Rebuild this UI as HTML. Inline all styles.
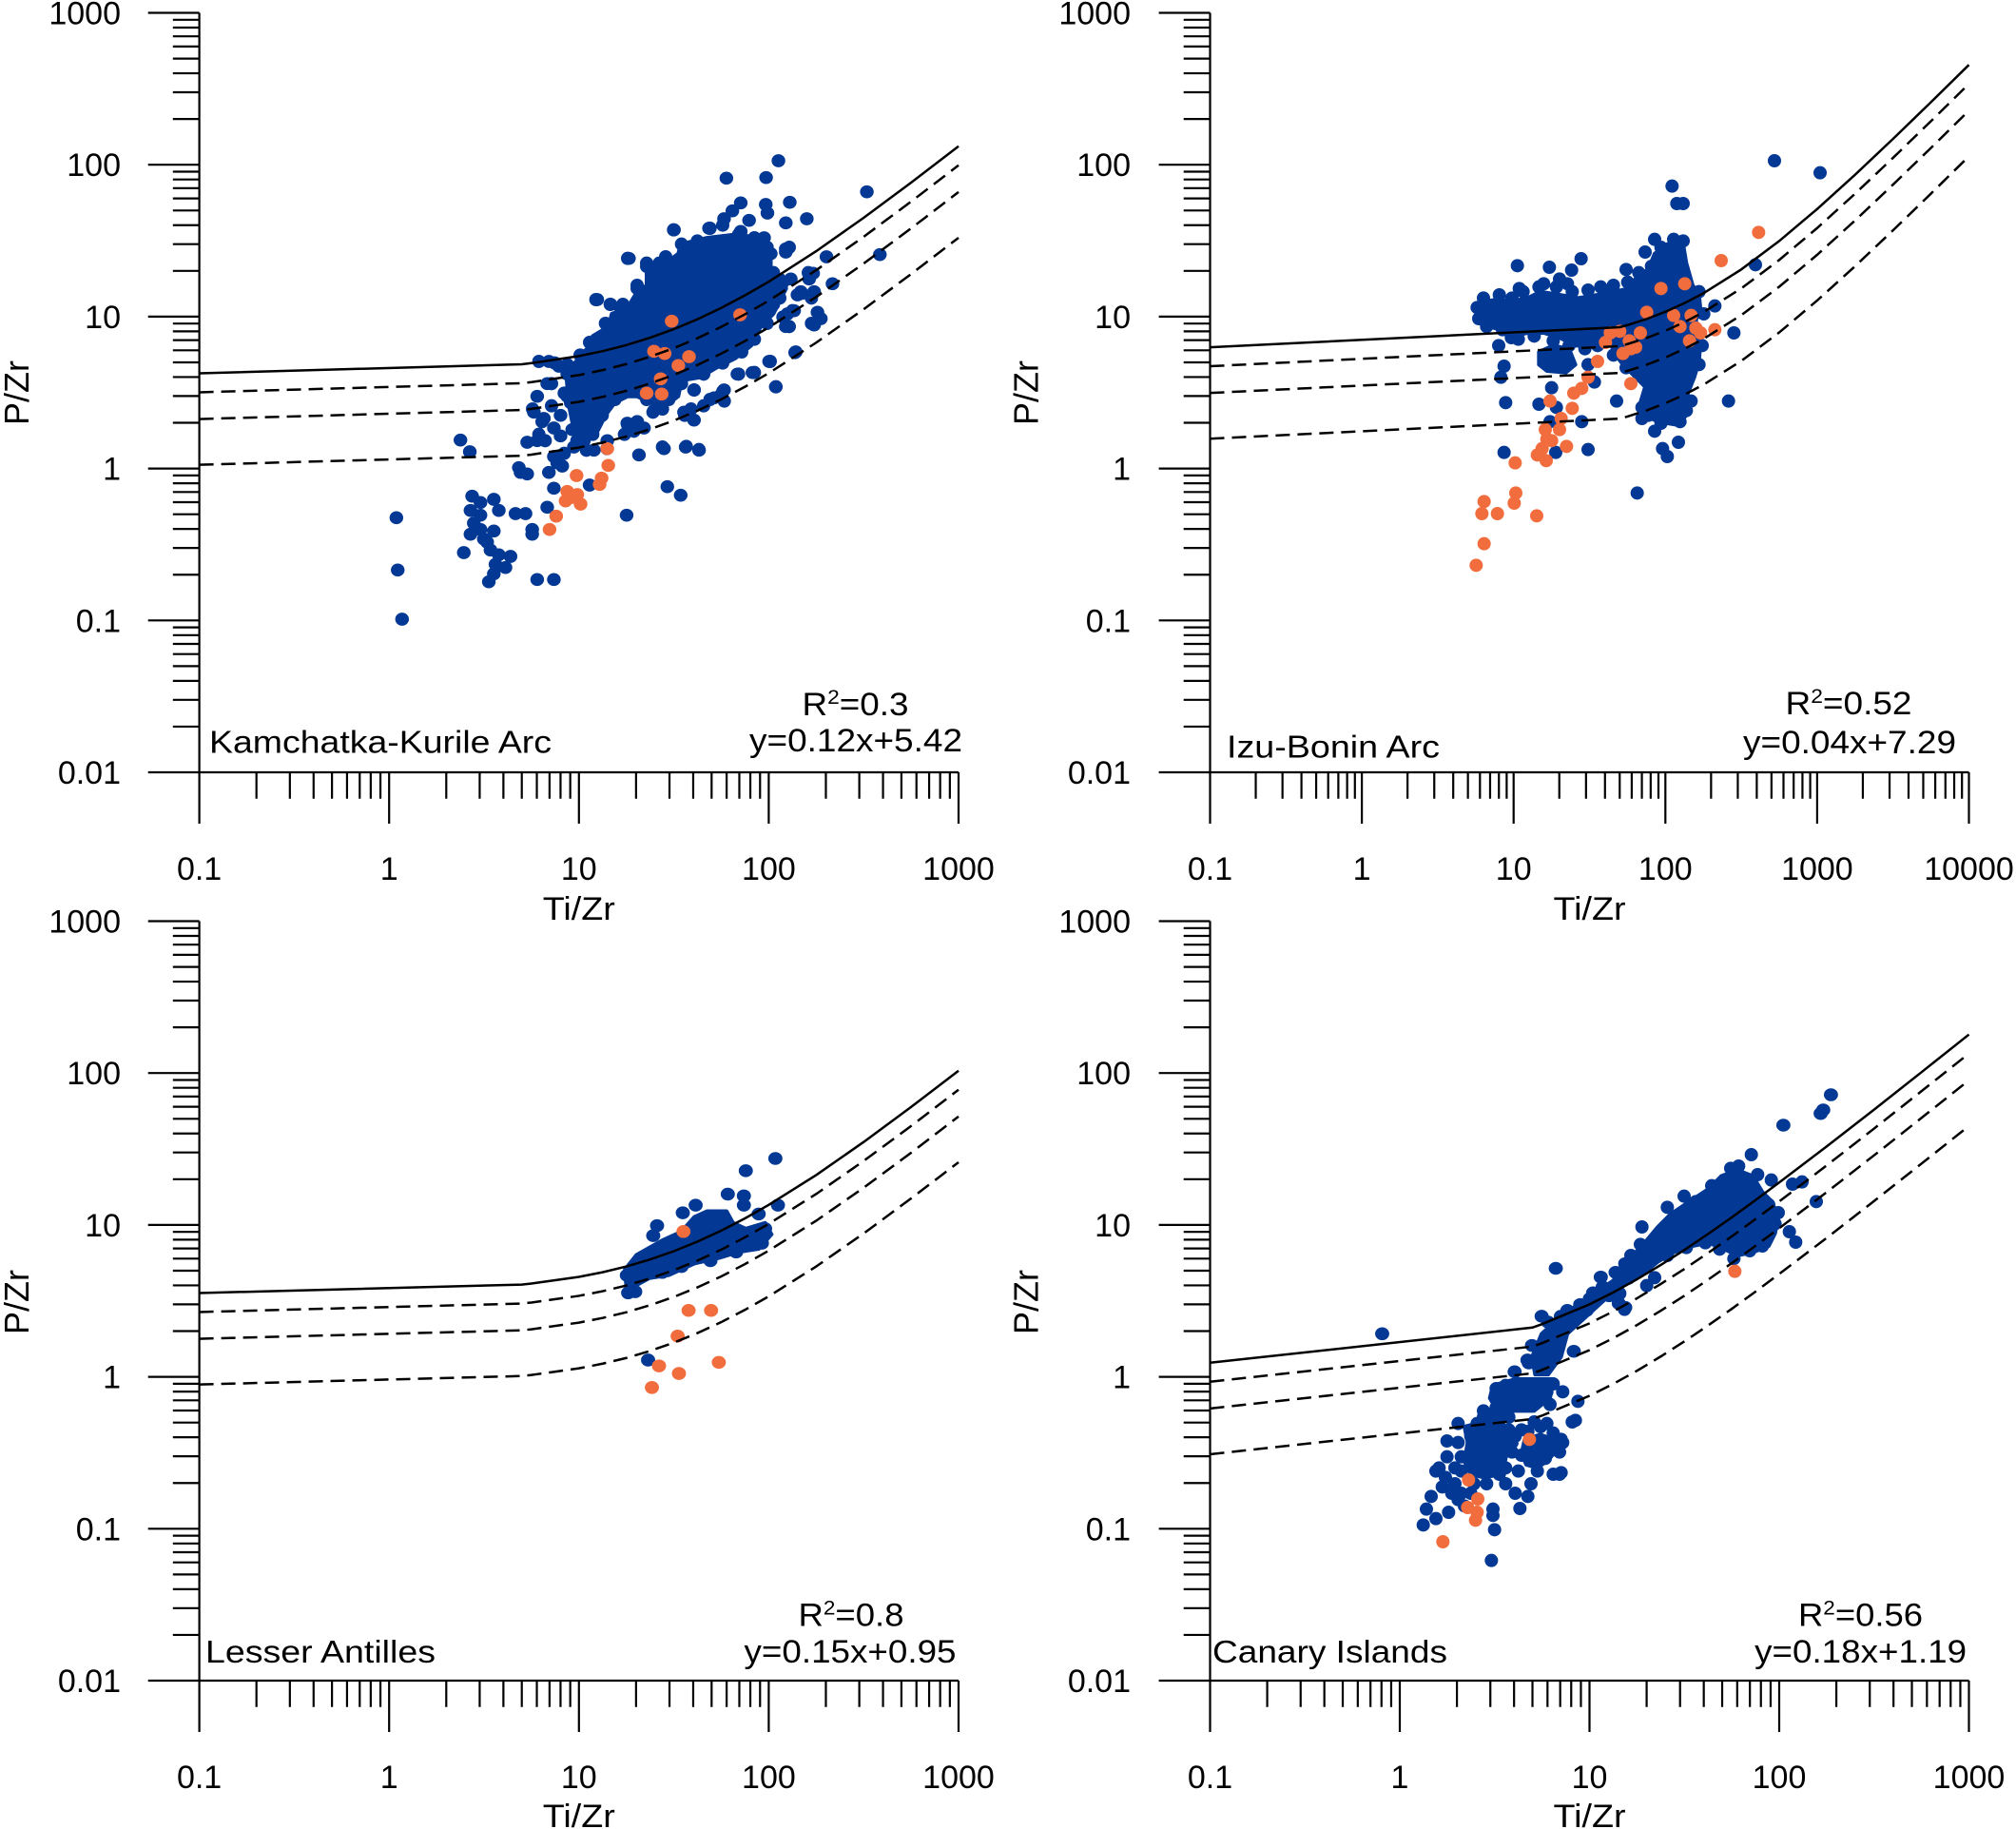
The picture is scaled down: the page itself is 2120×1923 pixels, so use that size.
<!DOCTYPE html>
<html><head><meta charset="utf-8"><style>
html,body{margin:0;padding:0;background:#fff;}
svg{display:block;}
text{font-family:"Liberation Sans",Arial,sans-serif;fill:#000;}
</style></head><body>
<svg width="2120" height="1923" viewBox="0 0 2120 1923" xmlns="http://www.w3.org/2000/svg">
<rect width="2120" height="1923" fill="#fff"/>
<defs>
<path id="ym" d="M181.8,-48.07h27.8M181.8,-76.2h27.8M181.8,-96.15h27.8M181.8,-111.6h27.8M181.8,-124.3h27.8M181.8,-135h27.8M181.8,-144.2h27.8M181.8,-152.4h27.8"/>
<path id="x4" d="M60.08,0v27.7M95.23,0v27.7M120.17,0v27.7M139.52,0v27.7M155.33,0v27.7M168.68,0v27.7M180.25,0v27.7M190.46,0v27.7"/>
<path id="x5" d="M48.04,0v27.7M76.15,0v27.7M96.09,0v27.7M111.56,0v27.7M124.2,0v27.7M134.88,0v27.7M144.13,0v27.7M152.29,0v27.7"/>
</defs>

<!-- ===== DATA ===== -->
<!-- TL dense blob (orig coords) -->
<polygon fill="#033894" stroke="#033894" stroke-width="4" stroke-linejoin="round" points="600,386.7 620,363.3 623.3,353.3 640,343.3 643.3,330 660,323.3 670,306.7 680,300 680,280 700,276.7 713.3,266.7 715.8,256.7 743.9,250 771.9,246.7 803.5,250 810.5,266.7 810.5,290 823.3,290 826.7,303.3 820,316.7 813.3,330 800,343.3 790,363.3 773.3,376.7 753.3,386.7 736.7,396.7 716.7,400 713.3,416.7 700,426.7 683.3,423.3 670,416.7 660,416.7 646.7,423.3 636.7,436.7 626.7,456.7 613.3,463.3 603,450 598,425 596,400"/>
<g transform="translate(560,230) scale(0.33333)">
<path fill="none" stroke="#033894" stroke-width="42" stroke-linecap="round" d="M510 540h0M540 590h0M560 570h0M600 545h0M605 575h0M500 600h0M480 620h0M410 600h0M380 610h0M700 485h0M750 450h0M768 530h0M828 422h0M650 490h0M590 560h0M330 640h0M300 650h0M290 680h0M320 670h0M410 720h0M485 718h0M525 728h0M235 725h0M170 730h0M140 700h0M100 740h0M40 700h0M20 680h0M30 640h0M60 590h0M100 550h0M120 580h0M60 520h0M0 600h0M200 255h0M245 270h0M285 270h0M300 125h0M445 35h0M360 150h0M400 140h0M810 90h0M800 100h0M850 235h0M880 250h0M870 170h0M880 330h0M810 340h0M820 290h0M740 230h0M760 270h0M790 310h0M650 50h0M560 30h0M600 20h0M180 390h0M150 430h0M110 460h0M70 455h0M20 450h0M230 330h0M330 210h0M360 140h0M420 120h0M470 80h0M520 70h0M580 80h0M700 60h0M740 90h0M760 170h0M790 200h0M780 250h0M740 330h0M700 380h0M660 420h0M600 455h0M540 490h0M470 520h0M430 570h0M360 570h0M260 570h0M220 620h0M190 680h0"/>
</g>
<!-- TL dots -->
<g transform="translate(400,150) scale(0.35088,0.33333)">
<path fill="none" stroke="#033894" stroke-width="41" stroke-linecap="round" d="M1193 57h0M1037 112h0M1156 110h0M1458 155h0M1080 190h0M1155 195h0M1160 222h0M1227 188h0M1278 240h0M1215 253h0M1055 215h0M1030 240h0M985 270h0M1080 280h0M1105 245h0M880 275h0M745 365h0M800 385h0M840 380h0M910 330h0M1215 335h0M1215 345h0M1337 360h0M1497 353h0M1297 412h0M1355 445h0M1285 430h0M1300 470h0M1260 470h0M1240 530h0M1310 535h0M1320 555h0M1300 575h0M1215 580h0M1245 660h0M1165 690h0M1115 725h0M1185 770h0M1070 730h0M1030 780h0M1000 805h0M940 780h0M940 875h0M910 850h0M650 495h0M690 510h0M720 520h0M770 460h0M600 670h0M505 690h0M535 705h0M560 730h0M500 760h0M470 800h0M460 850h0M490 870h0M520 900h0M540 925h0M580 960h0M610 940h0M470 940h0M440 945h0M480 935h0M520 990h0M530 1010h0M545 1020h0M505 1040h0M415 1025h0M440 1045h0M640 970h0M680 940h0M760 900h0M790 900h0M740 885h0M770 880h0M820 845h0M850 965h0M915 960h0M955 970h0M775 985h0M860 1085h0M900 1112h0M738 1175h0M627 1080h0M520 1090h0M500 1150h0M455 1220h0M455 1235h0M405 1170h0M435 1170h0M240 938h0M268 975h0M48 1183h0M52 1348h0M65 1503h0M250 1293h0M275 1115h0M270 1160h0M300 1135h0M340 1125h0M355 1160h0M280 1200h0M300 1220h0M270 1235h0M340 1225h0M320 1260h0M330 1285h0M355 1300h0M390 1305h0M345 1330h0M375 1340h0M340 1360h0M325 1385h0M470 1378h0M520 1378h0M300 1175h0M310 1250h0M420 1040h0M1230 430h0M1250 480h0M1220 540h0M1175 420h0M1170 350h0M1150 300h0M560 800h0M600 760h0M540 860h0M575 905h0"/>
<path fill="none" stroke="#f26d3d" stroke-width="41" stroke-linecap="round" d="M873 563h0M1078 543h0M820 658h0M852 665h0M925 675h0M893 703h0M840 745h0M798 790h0M843 793h0M680 965h0M683 1018h0M663 1058h0M657 1078h0M588 1050h0M560 1100h0M590 1110h0M555 1130h0M600 1140h0M570 1120h0M527 1178h0M507 1220h0"/>
</g>

<!-- TR -->
<g transform="translate(1540,150) scale(0.33333)">
<polygon fill="#033894" stroke="#033894" stroke-width="12" stroke-linejoin="round" points="45,505 100,495 150,500 200,490 240,470 300,480 360,490 420,480 470,470 520,460 545,420 580,400 600,350 640,320 690,320 700,380 720,450 740,480 745,530 730,560 745,620 740,690 725,740 705,790 700,860 670,890 610,880 570,860 555,820 570,770 540,740 500,700 470,660 460,620 400,640 350,640 300,615 250,600 200,600 150,610 110,590 50,570 40,540"/>
<polygon fill="#033894" stroke="#033894" stroke-width="12" stroke-linejoin="round" points="235,660 280,640 330,650 350,700 320,725 260,720 235,700"/>
<path fill="none" stroke="#033894" stroke-width="42" stroke-linecap="round" d="M978 57h0M1122 95h0M655 137h0M670 192h0M690 192h0M600 305h0M570 345h0M167 388h0M268 393h0M338 402h0M368 366h0M510 400h0M173 460h0M235 455h0M300 430h0M325 445h0M440 470h0M515 440h0M605 385h0M918 385h0M790 515h0M850 600h0M108 640h0M125 705h0M115 740h0M130 820h0M235 825h0M275 773h0M290 835h0M370 880h0M270 880h0M125 977h0M288 977h0M390 968h0M480 815h0M545 1105h0M600 910h0M625 965h0M640 990h0M675 945h0M715 815h0M833 815h0M560 835h0M580 860h0M620 780h0M260 700h0M390 700h0M410 755h0M150 600h0M330 500h0M200 520h0M60 560h0M80 540h0M148 615h0M380 650h0M420 620h0M350 610h0M60 490h0M110 480h0M150 490h0M185 470h0M250 445h0M290 455h0M340 470h0M390 465h0M430 455h0M470 450h0M550 410h0M590 390h0M620 330h0M660 305h0M690 310h0M70 580h0M120 590h0M170 620h0M220 610h0M280 625h0M330 640h0M420 640h0M470 670h0M510 710h0M560 870h0M620 885h0M680 880h0M700 845h0M740 700h0M750 640h0M755 540h0M740 470h0M40 520h0M45 555h0"/>
<path fill="none" stroke="#f26d3d" stroke-width="42" stroke-linecap="round" d="M928 283h0M810 372h0M620 460h0M695 445h0M575 535h0M660 545h0M715 545h0M730 585h0M790 590h0M680 580h0M745 600h0M710 625h0M460 600h0M445 630h0M490 595h0M520 625h0M555 600h0M525 650h0M500 665h0M540 645h0M420 690h0M390 740h0M525 760h0M370 775h0M345 790h0M340 838h0M270 815h0M305 870h0M300 905h0M255 905h0M260 935h0M275 940h0M245 965h0M230 985h0M258 1003h0M322 958h0M160 1010h0M162 1105h0M157 1137h0M62 1132h0M55 1170h0M104 1170h0M228 1177h0M62 1265h0M37 1333h0"/>
</g>

<!-- BL -->
<g transform="translate(0,960) scale(0.6761,0.6143)">
<polygon fill="#033894" stroke="#033894" stroke-width="6" stroke-linejoin="round" points="972,610 990,585 1030,560 1060,545 1080,520 1100,510 1130,510 1140,530 1160,540 1190,530 1200,550 1180,575 1150,580 1120,590 1100,595 1080,600 1060,610 1040,620 1010,625 985,640 975,650"/>
<path fill="none" stroke="#033894" stroke-width="22" stroke-linecap="round" d="M1206 420h0M1160 441h0M1132 481h0M1157 484h0M1157 500h0M1082 500h0M1062 513h0M1022 535h0M1016 552h0M1180 515h0M1210 500h0M1190 540h0M1185 565h0M1145 580h0M1105 595h0M1060 605h0M1030 615h0M977 650h0M988 648h0M1008 765h0M975 620h0M1000 600h0M1040 580h0M1090 560h0M1120 540h0"/>
<path fill="none" stroke="#f26d3d" stroke-width="22" stroke-linecap="round" d="M1063 545h0M1071 680h0M1106 680h0M1054 724h0M1025 775h0M1056 788h0M1118 769h0M1014 812h0"/>
</g>

<!-- BR band + outliers -->
<g transform="translate(1060,960) scale(0.6761,0.6143)">
<polygon fill="#033894" stroke="#033894" stroke-width="6" stroke-linejoin="round" points="815,760 830,720 860,690 900,660 940,630 970,600 1000,570 1010,590 980,615 950,640 920,670 890,700 870,720 860,760 840,790 820,790"/>
<path fill="none" stroke="#033894" stroke-width="22" stroke-linecap="round" d="M582 720h0M852 608h0M1206 363h0M1264 343h0M1268 337h0M1280 311h0M845 705h0M855 715h0M830 740h0M825 760h0M810 770h0M830 690h0M860 690h0M870 680h0M890 670h0M910 650h0M925 640h0M945 615h0M960 600h0M880 750h0M808 765h0M788 785h0M905 660h0M928 648h0M922 623h0M950 668h0M960 675h0M840 700h0M815 740h0M870 700h0M900 680h0M935 655h0M965 625h0M980 590h0"/>
</g>
<!-- BR upper cluster -->
<g transform="translate(1700,1200) scale(0.33333)">
<polygon fill="#033894" stroke="#033894" stroke-width="12" stroke-linejoin="round" points="130,270 170,230 230,190 290,150 330,110 380,90 430,110 460,160 490,190 510,240 500,290 480,330 430,350 380,360 340,340 290,320 240,330 180,350 130,380 80,420 30,450 0,470 0,410 40,370 80,330"/>
<path fill="none" stroke="#033894" stroke-width="42" stroke-linecap="round" d="M425 42h0M385 78h0M360 85h0M213 173h0M160 208h0M80 270h0M75 325h0M45 360h0M445 105h0M488 122h0M555 135h0M585 128h0M630 190h0M545 285h0M565 318h0M510 225h0M325 340h0M370 370h0M120 430h0M95 455h0M10 480h0M25 530h0M0 450h0M130 300h0M180 250h0M250 190h0M300 140h0M480 200h0M500 260h0M460 330h0M420 345h0M280 320h0M220 335h0M160 360h0M60 400h0"/>
<path fill="none" stroke="#f26d3d" stroke-width="42" stroke-linecap="round" d="M373 410h0"/>
</g>
<!-- BR lower cluster -->
<g transform="translate(1300,1450) scale(0.33333)">
<polygon fill="#033894" stroke="#033894" stroke-width="12" stroke-linejoin="round" points="720,150 800,130 850,150 860,200 850,250 840,300 780,310 740,300 720,260 730,200"/>
<polygon fill="#033894" stroke="#033894" stroke-width="12" stroke-linejoin="round" points="910,190 960,175 1000,190 1010,225 985,255 950,280 915,270 900,235"/>
<polygon fill="#033894" stroke="#033894" stroke-width="12" stroke-linejoin="round" points="810,20 880,0 1000,0 990,60 940,100 880,100 830,110 800,60"/>
<path fill="none" stroke="#033894" stroke-width="42" stroke-linecap="round" d="M1078 70h0M1060 135h0M1070 130h0M1020 300h0M1025 295h0M1020 230h0M1025 190h0M1000 170h0M980 140h0M940 135h0M920 165h0M960 200h0M975 250h0M950 290h0M930 330h0M920 370h0M895 408h0M880 360h0M850 330h0M890 290h0M900 240h0M870 230h0M830 300h0M800 250h0M780 200h0M760 160h0M740 180h0M700 140h0M665 195h0M665 245h0M710 245h0M640 280h0M630 290h0M660 310h0M650 340h0M615 370h0M600 410h0M590 460h0M630 440h0M670 420h0M680 360h0M710 360h0M740 360h0M720 400h0M810 410h0M810 430h0M815 475h0M805 572h0M780 100h0M820 90h0M820 30h0M850 20h0M900 40h0M940 80h0M980 40h0M1000 15h0M880 60h0M860 120h0M830 150h0M800 120h0M700 200h0M710 290h0M690 330h0M750 330h0M790 330h0M850 280h0M870 200h0M860 160h0M900 160h0M960 150h0M1030 200h0M1000 300h0M780 120h0M760 140h0M830 120h0M990 80h0M1030 40h0M880 180h0M690 280h0M700 380h0"/>
<path fill="none" stroke="#f26d3d" stroke-width="42" stroke-linecap="round" d="M925 190h0M733 318h0M762 378h0M730 405h0M760 420h0M755 445h0M652 513h0"/>
</g>

<!-- ===== CURVES ===== -->
<g fill="none" stroke="#000" stroke-width="2.5">
<path id="cTL" d="M209.6,392.5L548.7,383L558.9,381.8L608.8,374.4L633.7,369.2L658.7,362.8L683.6,355.1L708.6,346.1L733.5,335.6L758.5,323.7L783.4,310.5L808.4,296.2L858.3,264.1L908.2,229L958.1,192L1008,153.8"/>
<path id="cTR" d="M1272.5,365.1L1703.3,344L1711.4,341.8L1731.3,335.5L1751.3,327.8L1771.2,318.8L1791.2,308.4L1831.1,283.3L1871,253.4L1910.9,219.8L1950.8,183.7L1990.7,146L2030.6,107.4L2070.5,68.2"/>
<path id="cBL" d="M209.6,1359.5L548.7,1350.6L558.9,1349.5L608.8,1342.5L633.7,1337.6L658.7,1331.6L683.6,1324.2L708.6,1315.5L733.5,1305.4L758.5,1293.9L783.4,1281L808.4,1266.8L858.3,1235.4L908.2,1200.7L958.1,1163.9L1008,1125.8"/>
<path id="cBR" d="M1272.5,1432.8L1611.5,1395.8L1621.6,1392.2L1671.5,1371.4L1696.4,1358.9L1721.4,1345.1L1746.3,1330.1L1771.3,1314.2L1796.2,1297.4L1821.2,1279.9L1846.1,1261.8L1871,1243.3L1920.9,1205.4L1970.8,1166.6L2020.6,1127.3L2070.5,1087.7"/>
</g>
<g fill="none" stroke="#000" stroke-width="2.5" stroke-dasharray="15 8">
<use href="#cTL" transform="translate(0,19.95)"/><use href="#cTL" transform="translate(0,48.08)"/><use href="#cTL" transform="translate(0,96.15)"/>
<use href="#cTR" transform="translate(0,19.95)"/><use href="#cTR" transform="translate(0,48.08)"/><use href="#cTR" transform="translate(0,96.15)"/>
<use href="#cBL" transform="translate(0,19.95)"/><use href="#cBL" transform="translate(0,48.08)"/><use href="#cBL" transform="translate(0,96.15)"/>
<use href="#cBR" transform="translate(0,19.95)"/><use href="#cBR" transform="translate(0,48.08)"/><use href="#cBR" transform="translate(0,96.15)"/>
</g>

<!-- ===== AXES ===== -->
<g fill="none" stroke="#000" stroke-width="2.2">
<path d="M209.6,13.5V812M155.7,812H1008M155.7,13.5h53.9M155.7,173.2h53.9M155.7,332.9h53.9M155.7,492.6h53.9M155.7,652.3h53.9M209.6,812v54M409.2,812v54M608.8,812v54M808.4,812v54M1008,812v54"/>
<use href="#ym" transform="translate(0,812)"/><use href="#ym" transform="translate(0,652.3)"/><use href="#ym" transform="translate(0,492.6)"/><use href="#ym" transform="translate(0,332.9)"/><use href="#ym" transform="translate(0,173.2)"/>
<use href="#x4" transform="translate(209.6,812)"/><use href="#x4" transform="translate(409.2,812)"/><use href="#x4" transform="translate(608.8,812)"/><use href="#x4" transform="translate(808.4,812)"/>
<path d="M1272.5,13.5V812M1218.6,812H2070.5M1218.6,13.5h53.9M1218.6,173.2h53.9M1218.6,332.9h53.9M1218.6,492.6h53.9M1218.6,652.3h53.9M1272.5,812v54M1432.1,812v54M1591.7,812v54M1751.3,812v54M1910.9,812v54M2070.5,812v54"/>
<use href="#ym" transform="translate(1062.9,812)"/><use href="#ym" transform="translate(1062.9,652.3)"/><use href="#ym" transform="translate(1062.9,492.6)"/><use href="#ym" transform="translate(1062.9,332.9)"/><use href="#ym" transform="translate(1062.9,173.2)"/>
<use href="#x5" transform="translate(1272.5,812)"/><use href="#x5" transform="translate(1432.1,812)"/><use href="#x5" transform="translate(1591.7,812)"/><use href="#x5" transform="translate(1751.3,812)"/><use href="#x5" transform="translate(1910.9,812)"/>
<path d="M209.6,968.5V1767M155.7,1767H1008M155.7,968.5h53.9M155.7,1128.2h53.9M155.7,1287.9h53.9M155.7,1447.6h53.9M155.7,1607.3h53.9M209.6,1767v54M409.2,1767v54M608.8,1767v54M808.4,1767v54M1008,1767v54"/>
<use href="#ym" transform="translate(0,1767)"/><use href="#ym" transform="translate(0,1607.3)"/><use href="#ym" transform="translate(0,1447.6)"/><use href="#ym" transform="translate(0,1287.9)"/><use href="#ym" transform="translate(0,1128.2)"/>
<use href="#x4" transform="translate(209.6,1767)"/><use href="#x4" transform="translate(409.2,1767)"/><use href="#x4" transform="translate(608.8,1767)"/><use href="#x4" transform="translate(808.4,1767)"/>
<path d="M1272.5,968.5V1767M1218.6,1767H2070.5M1218.6,968.5h53.9M1218.6,1128.2h53.9M1218.6,1287.9h53.9M1218.6,1447.6h53.9M1218.6,1607.3h53.9M1272.5,1767v54M1472,1767v54M1671.5,1767v54M1871,1767v54M2070.5,1767v54"/>
<use href="#ym" transform="translate(1062.9,1767)"/><use href="#ym" transform="translate(1062.9,1607.3)"/><use href="#ym" transform="translate(1062.9,1447.6)"/><use href="#ym" transform="translate(1062.9,1287.9)"/><use href="#ym" transform="translate(1062.9,1128.2)"/>
<use href="#x4" transform="translate(1272.5,1767)"/><use href="#x4" transform="translate(1472,1767)"/><use href="#x4" transform="translate(1671.5,1767)"/><use href="#x4" transform="translate(1871,1767)"/>
</g>

<!-- ===== TICK LABELS ===== -->
<g font-size="34" text-anchor="end">
<text x="127" y="25.5">1000</text><text x="127" y="185.2">100</text><text x="127" y="344.9">10</text><text x="127" y="504.6">1</text><text x="127" y="664.3">0.1</text><text x="127" y="824">0.01</text>
<text x="1189" y="25.5">1000</text><text x="1189" y="185.2">100</text><text x="1189" y="344.9">10</text><text x="1189" y="504.6">1</text><text x="1189" y="664.3">0.1</text><text x="1189" y="824">0.01</text>
<text x="127" y="980.5">1000</text><text x="127" y="1140.2">100</text><text x="127" y="1299.9">10</text><text x="127" y="1459.6">1</text><text x="127" y="1619.3">0.1</text><text x="127" y="1779">0.01</text>
<text x="1189" y="980.5">1000</text><text x="1189" y="1140.2">100</text><text x="1189" y="1299.9">10</text><text x="1189" y="1459.6">1</text><text x="1189" y="1619.3">0.1</text><text x="1189" y="1779">0.01</text>
</g>
<g font-size="34" text-anchor="middle">
<text x="209.6" y="925">0.1</text><text x="409.2" y="925">1</text><text x="608.8" y="925">10</text><text x="808.4" y="925">100</text><text x="1008" y="925">1000</text>
<text x="1272.5" y="925">0.1</text><text x="1432.1" y="925">1</text><text x="1591.7" y="925">10</text><text x="1751.3" y="925">100</text><text x="1910.9" y="925">1000</text><text x="2070.5" y="925">10000</text>
<text x="209.6" y="1880">0.1</text><text x="409.2" y="1880">1</text><text x="608.8" y="1880">10</text><text x="808.4" y="1880">100</text><text x="1008" y="1880">1000</text>
<text x="1272.5" y="1880">0.1</text><text x="1472" y="1880">1</text><text x="1671.5" y="1880">10</text><text x="1871" y="1880">100</text><text x="2070.5" y="1880">1000</text>
</g>

<!-- ===== AXIS TITLES ===== -->
<g font-size="34" text-anchor="middle">
<text x="608.8" y="967" textLength="76" lengthAdjust="spacingAndGlyphs">Ti/Zr</text>
<text x="1671.5" y="967" textLength="76" lengthAdjust="spacingAndGlyphs">Ti/Zr</text>
<text x="608.8" y="1921" textLength="76" lengthAdjust="spacingAndGlyphs">Ti/Zr</text>
<text x="1671.5" y="1921" textLength="76" lengthAdjust="spacingAndGlyphs">Ti/Zr</text>
</g>
<g font-size="36" text-anchor="middle">
<text transform="translate(30,413) rotate(-90)" textLength="68" lengthAdjust="spacingAndGlyphs">P/Zr</text>
<text transform="translate(1091.5,413) rotate(-90)" textLength="68" lengthAdjust="spacingAndGlyphs">P/Zr</text>
<text transform="translate(30,1369) rotate(-90)" textLength="68" lengthAdjust="spacingAndGlyphs">P/Zr</text>
<text transform="translate(1091.5,1369) rotate(-90)" textLength="68" lengthAdjust="spacingAndGlyphs">P/Zr</text>
</g>

<!-- ===== PANEL LABELS ===== -->
<g font-size="33">
<text x="220" y="791.5" textLength="360" lengthAdjust="spacingAndGlyphs">Kamchatka-Kurile Arc</text>
<text x="1290" y="796.5" textLength="224" lengthAdjust="spacingAndGlyphs">Izu-Bonin Arc</text>
<text x="216" y="1748" textLength="242" lengthAdjust="spacingAndGlyphs">Lesser Antilles</text>
<text x="1275" y="1748" textLength="247" lengthAdjust="spacingAndGlyphs">Canary Islands</text>
</g>
<g font-size="34" text-anchor="middle">
<text x="899.5" y="752" textLength="112" lengthAdjust="spacingAndGlyphs">R<tspan font-size="21" dy="-12">2</tspan><tspan dy="12">=0.3</tspan></text>
<text x="900" y="790" textLength="224" lengthAdjust="spacingAndGlyphs">y=0.12x+5.42</text>
<text x="1944" y="751" textLength="133" lengthAdjust="spacingAndGlyphs">R<tspan font-size="21" dy="-12">2</tspan><tspan dy="12">=0.52</tspan></text>
<text x="1945" y="792" textLength="224" lengthAdjust="spacingAndGlyphs">y=0.04x+7.29</text>
<text x="895" y="1709.5" textLength="111" lengthAdjust="spacingAndGlyphs">R<tspan font-size="21" dy="-12">2</tspan><tspan dy="12">=0.8</tspan></text>
<text x="894" y="1748" textLength="223" lengthAdjust="spacingAndGlyphs">y=0.15x+0.95</text>
<text x="1956.5" y="1709.5" textLength="131" lengthAdjust="spacingAndGlyphs">R<tspan font-size="21" dy="-12">2</tspan><tspan dy="12">=0.56</tspan></text>
<text x="1956.6" y="1748" textLength="223" lengthAdjust="spacingAndGlyphs">y=0.18x+1.19</text>
</g>
</svg>
</body></html>
